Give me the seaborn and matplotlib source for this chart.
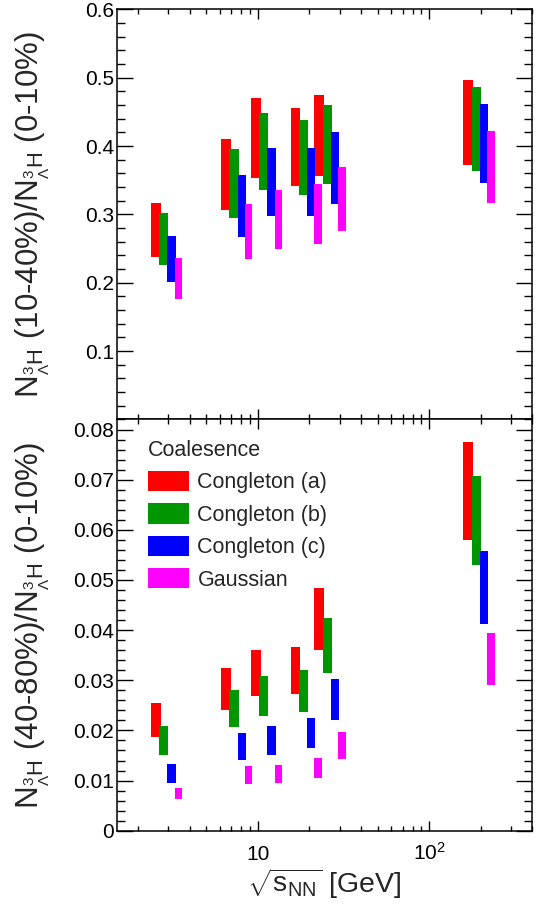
import numpy as np
import pandas as pd
import matplotlib
matplotlib.use("Agg")
import matplotlib.pyplot as plt
import seaborn as sns
from matplotlib.patches import Patch
from matplotlib.ticker import FixedLocator, FixedFormatter, NullFormatter, MultipleLocator

# ---------------- data ----------------
energies = [3.0, 7.7, 11.5, 19.6, 27.0, 200.0]
models = ["Congleton (a)", "Congleton (b)", "Congleton (c)", "Gaussian"]
legend_title = "Coalesence"

# N(10-40%)/N(0-10%)
top_a_lo = [0.237, 0.307, 0.353, 0.341, 0.356, 0.372]
top_a_hi = [0.316, 0.410, 0.470, 0.455, 0.475, 0.496]
top_b_lo = [0.226, 0.295, 0.336, 0.328, 0.344, 0.364]
top_b_hi = [0.302, 0.395, 0.449, 0.438, 0.460, 0.486]
top_c_lo = [0.201, 0.267, 0.297, 0.297, 0.315, 0.346]
top_c_hi = [0.269, 0.357, 0.397, 0.397, 0.420, 0.461]
top_g_lo = [0.176, 0.235, 0.250, 0.257, 0.276, 0.317]
top_g_hi = [0.236, 0.315, 0.335, 0.344, 0.369, 0.422]

# N(40-80%)/N(0-10%)
bot_a_lo = [0.0187, 0.0240, 0.0268, 0.0273, 0.0361, 0.0579]
bot_a_hi = [0.0254, 0.0325, 0.0361, 0.0367, 0.0484, 0.0775]
bot_b_lo = [0.0152, 0.0206, 0.0228, 0.0236, 0.0314, 0.0529]
bot_b_hi = [0.0208, 0.0280, 0.0308, 0.0320, 0.0424, 0.0708]
bot_c_lo = [0.0096, 0.0141, 0.0152, 0.0164, 0.0221, 0.0413]
bot_c_hi = [0.0133, 0.0194, 0.0208, 0.0224, 0.0302, 0.0558]
bot_g_lo = [0.0063, 0.0094, 0.0096, 0.0106, 0.0144, 0.0291]
bot_g_hi = [0.0085, 0.0129, 0.0132, 0.0145, 0.0196, 0.0394]

xtick_vals = [10, 100]
xtick_labels = ["10", r"$10^{2}$"]
top_ytick_vals = [0.0, 0.1, 0.2, 0.3, 0.4, 0.5, 0.6]
top_ytick_labels = ["", "0.1", "0.2", "0.3", "0.4", "0.5", "0.6"]
bot_ytick_vals = [0.0, 0.01, 0.02, 0.03, 0.04, 0.05, 0.06, 0.07, 0.08]
bot_ytick_labels = ["0", "0.01", "0.02", "0.03", "0.04", "0.05", "0.06", "0.07", "0.08"]

top_ylabel = r"N$_{{}^{3}_{\Lambda}\mathrm{H}}$ (10-40%)/N$_{{}^{3}_{\Lambda}\mathrm{H}}$ (0-10%)"
bot_ylabel = r"N$_{{}^{3}_{\Lambda}\mathrm{H}}$ (40-80%)/N$_{{}^{3}_{\Lambda}\mathrm{H}}$ (0-10%)"
xlabel = r"$\sqrt{\mathrm{s}_{\mathrm{NN}}}$ [GeV]"

def long_df(lo_lists, hi_lists):
    rows = []
    for m, lo, hi in zip(models, lo_lists, hi_lists):
        for e, l, h in zip(energies, lo, hi):
            rows.append({"energy": e, "model": m, "lo": l, "hi": h})
    return pd.DataFrame(rows)

df_top = long_df([top_a_lo, top_b_lo, top_c_lo, top_g_lo],
                 [top_a_hi, top_b_hi, top_c_hi, top_g_hi])
df_bot = long_df([bot_a_lo, bot_b_lo, bot_c_lo, bot_g_lo],
                 [bot_a_hi, bot_b_hi, bot_c_hi, bot_g_hi])

# ---------------- style ----------------
sns.set_theme(style="ticks")
plt.rcParams["font.family"] = ["Liberation Sans", "DejaVu Sans"]
plt.rcParams["mathtext.fontset"] = "custom"
plt.rcParams["mathtext.rm"] = "Liberation Sans"
plt.rcParams["mathtext.it"] = "Liberation Sans:italic"
plt.rcParams["mathtext.bf"] = "Liberation Sans:bold"
plt.rcParams["axes.linewidth"] = 1.1
plt.rcParams["axes.edgecolor"] = "black"

colors = dict(zip(models, ["#ff0000", "#009600", "#0000ff", "#ff00ff"]))
pos_factor = dict(zip(models, [0.845, 0.943, 1.045, 1.145]))
width_dec = dict(zip(models, [0.056, 0.053, 0.048, 0.044]))

fig = plt.figure(figsize=(5.41, 9.08), dpi=100)
ax_top = fig.add_axes([0.2157, 0.5380, 0.7682, 0.4518])
ax_bot = fig.add_axes([0.2157, 0.0851, 0.7682, 0.4529])

def draw(ax, df):
    ax.set_xscale("log")
    for m in models:
        sub = df[df["model"] == m]
        xc = sub["energy"].to_numpy() * pos_factor[m]
        left = xc * 10 ** (-width_dec[m] / 2)
        right = xc * 10 ** (width_dec[m] / 2)
        ax.bar(left, (sub["hi"] - sub["lo"]).to_numpy(), width=right - left,
               bottom=sub["lo"].to_numpy(), align="edge",
               color=colors[m], linewidth=0, label=m, zorder=2)
    ax.set_xlim(1.5, 400)
    ax.xaxis.set_major_locator(FixedLocator(xtick_vals))
    ax.xaxis.set_minor_locator(FixedLocator(
        [2, 3, 4, 5, 6, 7, 8, 9, 20, 30, 40, 50, 60, 70, 80, 90, 200, 300, 400]))
    ax.xaxis.set_minor_formatter(NullFormatter())
    ax.tick_params(axis="both", which="both", direction="in",
                   top=True, right=True, colors="black", width=1.0)
    ax.tick_params(axis="x", which="major", length=7.2)
    ax.tick_params(axis="x", which="minor", length=3.6)
    ax.tick_params(axis="y", which="major", length=11.5, pad=2, labelsize=15)
    ax.tick_params(axis="y", which="minor", length=5.5)
    ax.grid(False)

draw(ax_top, df_top)
draw(ax_bot, df_bot)

ax_top.set_ylim(0, 0.6)
ax_top.yaxis.set_major_locator(FixedLocator(top_ytick_vals))
ax_top.yaxis.set_major_formatter(FixedFormatter(top_ytick_labels))
ax_top.yaxis.set_minor_locator(MultipleLocator(0.02))
ax_top.xaxis.set_major_formatter(NullFormatter())

ax_bot.set_ylim(0, 0.082)
ax_bot.yaxis.set_major_locator(FixedLocator(bot_ytick_vals))
ax_bot.yaxis.set_major_formatter(FixedFormatter(bot_ytick_labels))
ax_bot.yaxis.set_minor_locator(MultipleLocator(0.002))
ax_bot.xaxis.set_major_formatter(FixedFormatter(xtick_labels))
ax_bot.tick_params(axis="x", which="major", labelsize=15, pad=21)
for lab in ax_bot.get_xticklabels():
    lab.set_verticalalignment("baseline")

ax_top.set_ylabel(top_ylabel, fontsize=22.5)
ax_bot.set_ylabel(bot_ylabel, fontsize=22.5)
ax_top.yaxis.set_label_coords(-0.155, 0.5)
ax_bot.yaxis.set_label_coords(-0.155, 0.5)
ax_bot.set_xlabel(xlabel, fontsize=20.5)
ax_bot.xaxis.set_label_coords(0.5, -0.087)

handles = [Patch(facecolor=colors[m], edgecolor="none") for m in models]
leg = ax_bot.legend(handles, models, title=legend_title, loc="upper left",
                    bbox_to_anchor=(0.075, 0.95), frameon=False, fontsize=15.5,
                    title_fontsize=15.5, handlelength=1.9, handleheight=1.07,
                    handletextpad=0.4, labelspacing=0.46, borderpad=0,
                    borderaxespad=0, alignment="left")

fig.savefig("out.png", dpi=100)
